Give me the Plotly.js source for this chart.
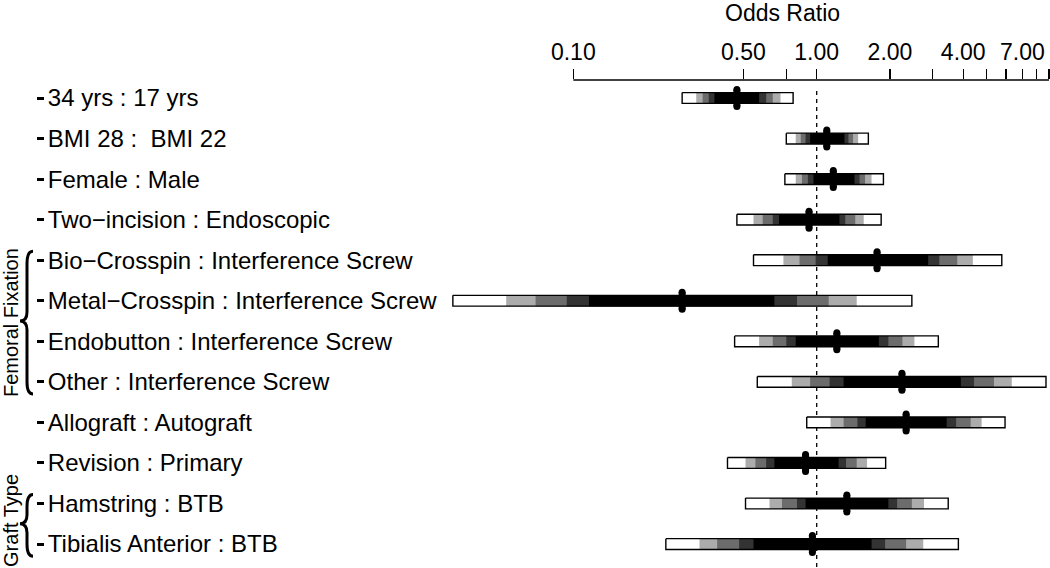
<!DOCTYPE html>
<html><head><meta charset="utf-8">
<script src="https://cdn.plot.ly/plotly-3.0.1.min.js"></script>
<style>html,body{margin:0;padding:0;background:#fff}</style>
</head><body><div id="chart" style="width:1050px;height:568px"></div>
<script>
// ---------- data ----------
const labels = [
  "34 yrs : 17 yrs",
  "BMI 28 :\u00a0 BMI 22",
  "Female : Male",
  "Two\u2212incision : Endoscopic",
  "Bio\u2212Crosspin : Interference Screw",
  "Metal\u2212Crosspin : Interference Screw",
  "Endobutton : Interference Screw",
  "Other : Interference Screw",
  "Allograft : Autograft",
  "Revision : Primary",
  "Hamstring : BTB",
  "Tibialis Anterior : BTB"
];
const estimate  = [0.47, 1.10, 1.17, 0.93, 1.77, 0.28, 1.21, 2.24, 2.33, 0.90, 1.33, 0.96];
const lowWhite  = [0.28, 0.75, 0.74, 0.47, 0.55, 0.032, 0.46, 0.57, 0.91, 0.43, 0.51, 0.24];
const lowLight  = [0.32, 0.82, 0.82, 0.55, 0.73, 0.053, 0.58, 0.79, 1.14, 0.51, 0.64, 0.33];
const lowGray   = [0.34, 0.86, 0.87, 0.60, 0.85, 0.070, 0.66, 0.94, 1.29, 0.56, 0.72, 0.39];
const lowDark   = [0.36, 0.90, 0.92, 0.66, 0.99, 0.094, 0.75, 1.13, 1.47, 0.62, 0.83, 0.48];
const lowBlack  = [0.38, 0.94, 0.97, 0.70, 1.11, 0.116, 0.82, 1.29, 1.59, 0.67, 0.90, 0.55];
const highBlack = [0.58, 1.30, 1.43, 1.24, 2.87, 0.67, 1.80, 3.91, 3.42, 1.23, 1.97, 1.68];
const highDark  = [0.62, 1.35, 1.50, 1.31, 3.19, 0.83, 1.97, 4.43, 3.74, 1.32, 2.14, 1.91];
const highGray  = [0.66, 1.41, 1.58, 1.44, 3.78, 1.12, 2.25, 5.35, 4.29, 1.46, 2.46, 2.33];
const highLight = [0.71, 1.48, 1.68, 1.56, 4.38, 1.46, 2.52, 6.33, 4.76, 1.61, 2.76, 2.74];
const highWhite = [0.80, 1.63, 1.88, 1.84, 5.76, 2.46, 3.16, 8.75, 5.94, 1.92, 3.47, 3.82];
const tickVals  = [0.1, 0.5, 0.75, 1, 2, 3, 4, 5, 6, 7, 8, 9];
const tickText  = ["0.10", "0.50", "", "1.00", "2.00", "", "4.00", "", "", "7.00", "", ""];
const groupNames = ["Femoral Fixation", "Graft Type"];
const groupFirst = [4, 10];
const groupLast  = [7, 11];
const refValue = 1;
const axisTitle = "Odds Ratio";

// ---------- layout constants ----------
const W = 1050, H = 568, TOP = 80;
const XR = [-3.3554, 0.9585];
const YR = [11.59, -0.444];
const UNIT = (H - TOP) / (YR[0] - YR[1]);   // px per row
const HALF = 5.4 / UNIT;
const FONT = "Liberation Sans, Arial, Helvetica, sans-serif";

function rects(lo, hi) {
  const xs = [], ys = [];
  lo.forEach((l, i) => {
    xs.push(l, hi[i], hi[i], l, l, null);
    ys.push(i - HALF, i - HALF, i + HALF, i + HALF, i - HALF, null);
  });
  return {xs, ys};
}

const levels = [
  {lo: lowWhite, hi: highWhite, color: "#ffffff"},
  {lo: lowLight, hi: highLight, color: "#acacac"},
  {lo: lowGray,  hi: highGray,  color: "#6c6c6c"},
  {lo: lowDark,  hi: highDark,  color: "#333333"},
  {lo: lowBlack, hi: highBlack, color: "#000000"}
];

const traces = [];
// reference dashed line (behind bars)
traces.push({type: "scatter", mode: "lines", x: [refValue, refValue], y: [-0.17, YR[0]],
  line: {color: "#000", width: 1.3, dash: "4px,4px"}, hoverinfo: "skip", showlegend: false});

levels.forEach(lv => {
  const r = rects(lv.lo, lv.hi);
  traces.push({type: "scatter", mode: "lines", x: r.xs, y: r.ys, fill: "toself",
    fillcolor: lv.color, line: {width: 0, color: lv.color}, hoverinfo: "skip", showlegend: false});
});
const outl = rects(lowWhite, highWhite);
traces.push({type: "scatter", mode: "lines", x: outl.xs, y: outl.ys,
  line: {color: "#000", width: 1.4}, hoverinfo: "skip", showlegend: false});

// point estimate pills
const PH = 8.5 / UNIT;
const px = [], py = [], mx = [], my = [];
estimate.forEach((e, i) => {
  px.push(e, e, null); py.push(i - PH, i + PH, null);
  mx.push(e, e); my.push(i - PH, i + PH);
});
traces.push({type: "scatter", mode: "lines", x: px, y: py,
  line: {color: "#000", width: 7}, hoverinfo: "skip", showlegend: false});
traces.push({type: "scatter", mode: "markers", x: mx, y: my,
  marker: {color: "#000", size: 7, line: {width: 0}}, hoverinfo: "skip", showlegend: false});

// helpers for paper coords
const lx = v => (Math.log10(v) - XR[0]) / (XR[1] - XR[0]);

function bracePath(first, last) {
  const T = first - 0.22, B = last + 0.3, M = (first + last) / 2;
  const xe = 33 / W, xs = 27 / W, xt = 20 / W;
  const d = 12 / UNIT, e = 9 / UNIT;
  return `M${xe},${T} Q${xs},${T} ${xs},${T + d} L${xs},${M - e} Q${xs},${M} ${xt},${M} ` +
         `Q${xs},${M} ${xs},${M + e} L${xs},${B - d} Q${xs},${B} ${xe},${B}`;
}

const shapes = [
  {type: "line", xref: "paper", yref: "paper", x0: lx(tickVals[0]), x1: lx(tickVals[tickVals.length - 1]),
   y0: 1, y1: 1, line: {color: "#000", width: 1.3}}
];
groupNames.forEach((g, k) => {
  shapes.push({type: "path", xref: "paper", yref: "y", path: bracePath(groupFirst[k], groupLast[k]),
    line: {color: "#000", width: 3}});
});

const annotations = [
  {text: axisTitle, xref: "paper", yref: "paper", x: 782 / W, y: 1 + (TOP - 13) / (H - TOP),
   xanchor: "center", yanchor: "middle", showarrow: false, font: {size: 23, color: "#000", family: FONT}}
];
const groupOffset = [0.05, -0.07];
groupNames.forEach((g, k) => {
  annotations.push({text: g, xref: "paper", yref: "y", x: 11 / W,
    y: (groupFirst[k] + groupLast[k]) / 2 + groupOffset[k],
    textangle: -90, xanchor: "center", yanchor: "middle", showarrow: false,
    font: {size: 20, color: "#000", family: FONT}});
});

const layout = {
  width: W, height: H,
  margin: {l: 0, r: 0, t: TOP, b: 0, pad: 0},
  paper_bgcolor: "#fff", plot_bgcolor: "#fff",
  font: {family: FONT, color: "#000"},
  showlegend: false,
  xaxis: {type: "log", range: XR, side: "top", tickmode: "array", tickvals: tickVals, ticktext: tickText,
    ticks: "outside", ticklen: 10, tickwidth: 1.3, tickcolor: "#000", showgrid: false, zeroline: false,
    showline: false, tickfont: {size: 23, color: "#000", family: FONT}, automargin: false, fixedrange: true},
  yaxis: {range: YR, tickmode: "array", tickvals: labels.map((_, i) => i), ticktext: labels,
    side: "right", anchor: "free", position: 36 / W, ticks: "outside", ticklen: 7, tickwidth: 3,
    tickcolor: "#000", showgrid: false, zeroline: false, showline: false, ticklabelstandoff: -1,
    tickfont: {size: 24, color: "#000", family: FONT}, automargin: false, fixedrange: true},
  shapes: shapes,
  annotations: annotations
};

Plotly.newPlot("chart", traces, layout, {displayModeBar: false, staticPlot: true});
</script>
</body></html>
